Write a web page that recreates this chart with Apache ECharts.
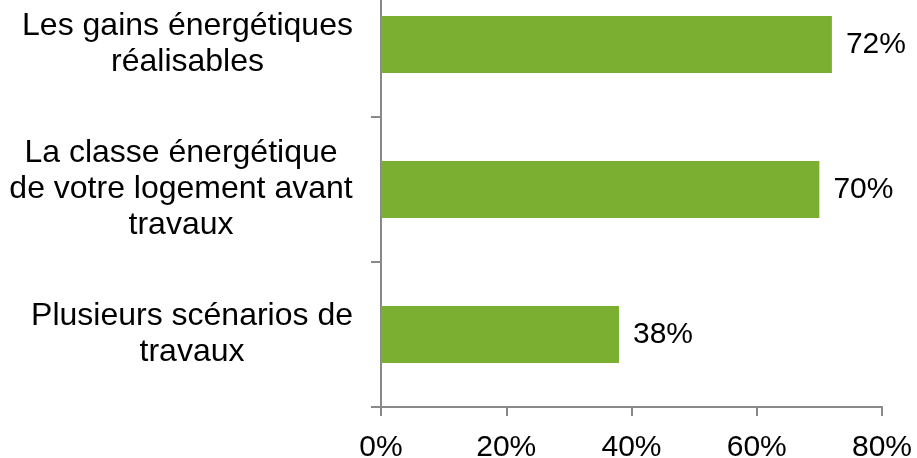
<!DOCTYPE html>
<html>
<head>
<meta charset="utf-8">
<script src="https://cdn.jsdelivr.net/npm/echarts@6/dist/echarts.min.js"></script>
<style>
  html, body { margin: 0; padding: 0; background: #fff; }
  #chart { width: 917px; height: 458px; }
</style>
</head>
<body>
<div id="chart"></div>
<script>
// catégories (de haut en bas) et pourcentages
const categories = [
  'Les gains énergétiques\nréalisables',
  'La classe énergétique\nde votre logement avant\ntravaux',
  'Plusieurs scénarios de\ntravaux'
];
const values = [72, 70, 38];
const axisMax = 80, axisStep = 20;

const FONT = '"Liberation Sans", Arial, sans-serif';
const AXIS_GREY = '#898989';
const CAT_SIZE = 32;

// largeur de la plus longue ligne : bloc aligné à droite, lignes centrées
const ctx = document.createElement('canvas').getContext('2d');
ctx.font = CAT_SIZE + 'px ' + FONT;
const blockWidth = v => Math.ceil(Math.max(...v.split('\n').map(l => ctx.measureText(l).width)));
function catLabel(v) {
  const w = blockWidth(v);
  return v.split('\n').map(l => '{c' + w + '|' + l + '}').join('\n');
}
const rich = {};
categories.forEach(v => {
  const w = blockWidth(v);
  rich['c' + w] = { width: w, align: 'center', fontSize: CAT_SIZE, lineHeight: 36, color: '#000', fontFamily: FONT };
});

const chart = echarts.init(document.getElementById('chart'), null, { renderer: 'canvas' });

chart.setOption({
  animation: false,
  textStyle: { fontFamily: FONT },
  grid: {
    left: 381, right: 35, top: -28, bottom: 51,
    containLabel: false, outerBoundsMode: 'none'
  },
  xAxis: {
    type: 'value', min: 0, max: axisMax, interval: axisStep,
    axisLine: { show: true, lineStyle: { color: AXIS_GREY, width: 2 } },
    axisTick: { show: true, length: 9, lineStyle: { color: AXIS_GREY, width: 2 } },
    splitLine: { show: false },
    axisLabel: {
      formatter: '{value}%', fontSize: 30, color: '#000',
      fontFamily: FONT, margin: 26
    }
  },
  yAxis: {
    type: 'category', data: categories, inverse: true,
    axisLine: { show: true, lineStyle: { color: AXIS_GREY, width: 2 } },
    axisTick: { show: true, length: 10, lineStyle: { color: AXIS_GREY, width: 2 } },
    axisLabel: {
      fontSize: CAT_SIZE, lineHeight: 36, color: '#000', align: 'right',
      fontFamily: FONT, margin: 28,
      formatter: catLabel, rich
    }
  },
  series: [{
    type: 'bar', data: values, barWidth: 57,
    itemStyle: { color: '#7BAF32' },
    label: {
      show: true, position: 'right', distance: 14,
      formatter: '{c}%', fontSize: 30, color: '#000', fontFamily: FONT
    }
  }]
});
</script>
</body>
</html>
